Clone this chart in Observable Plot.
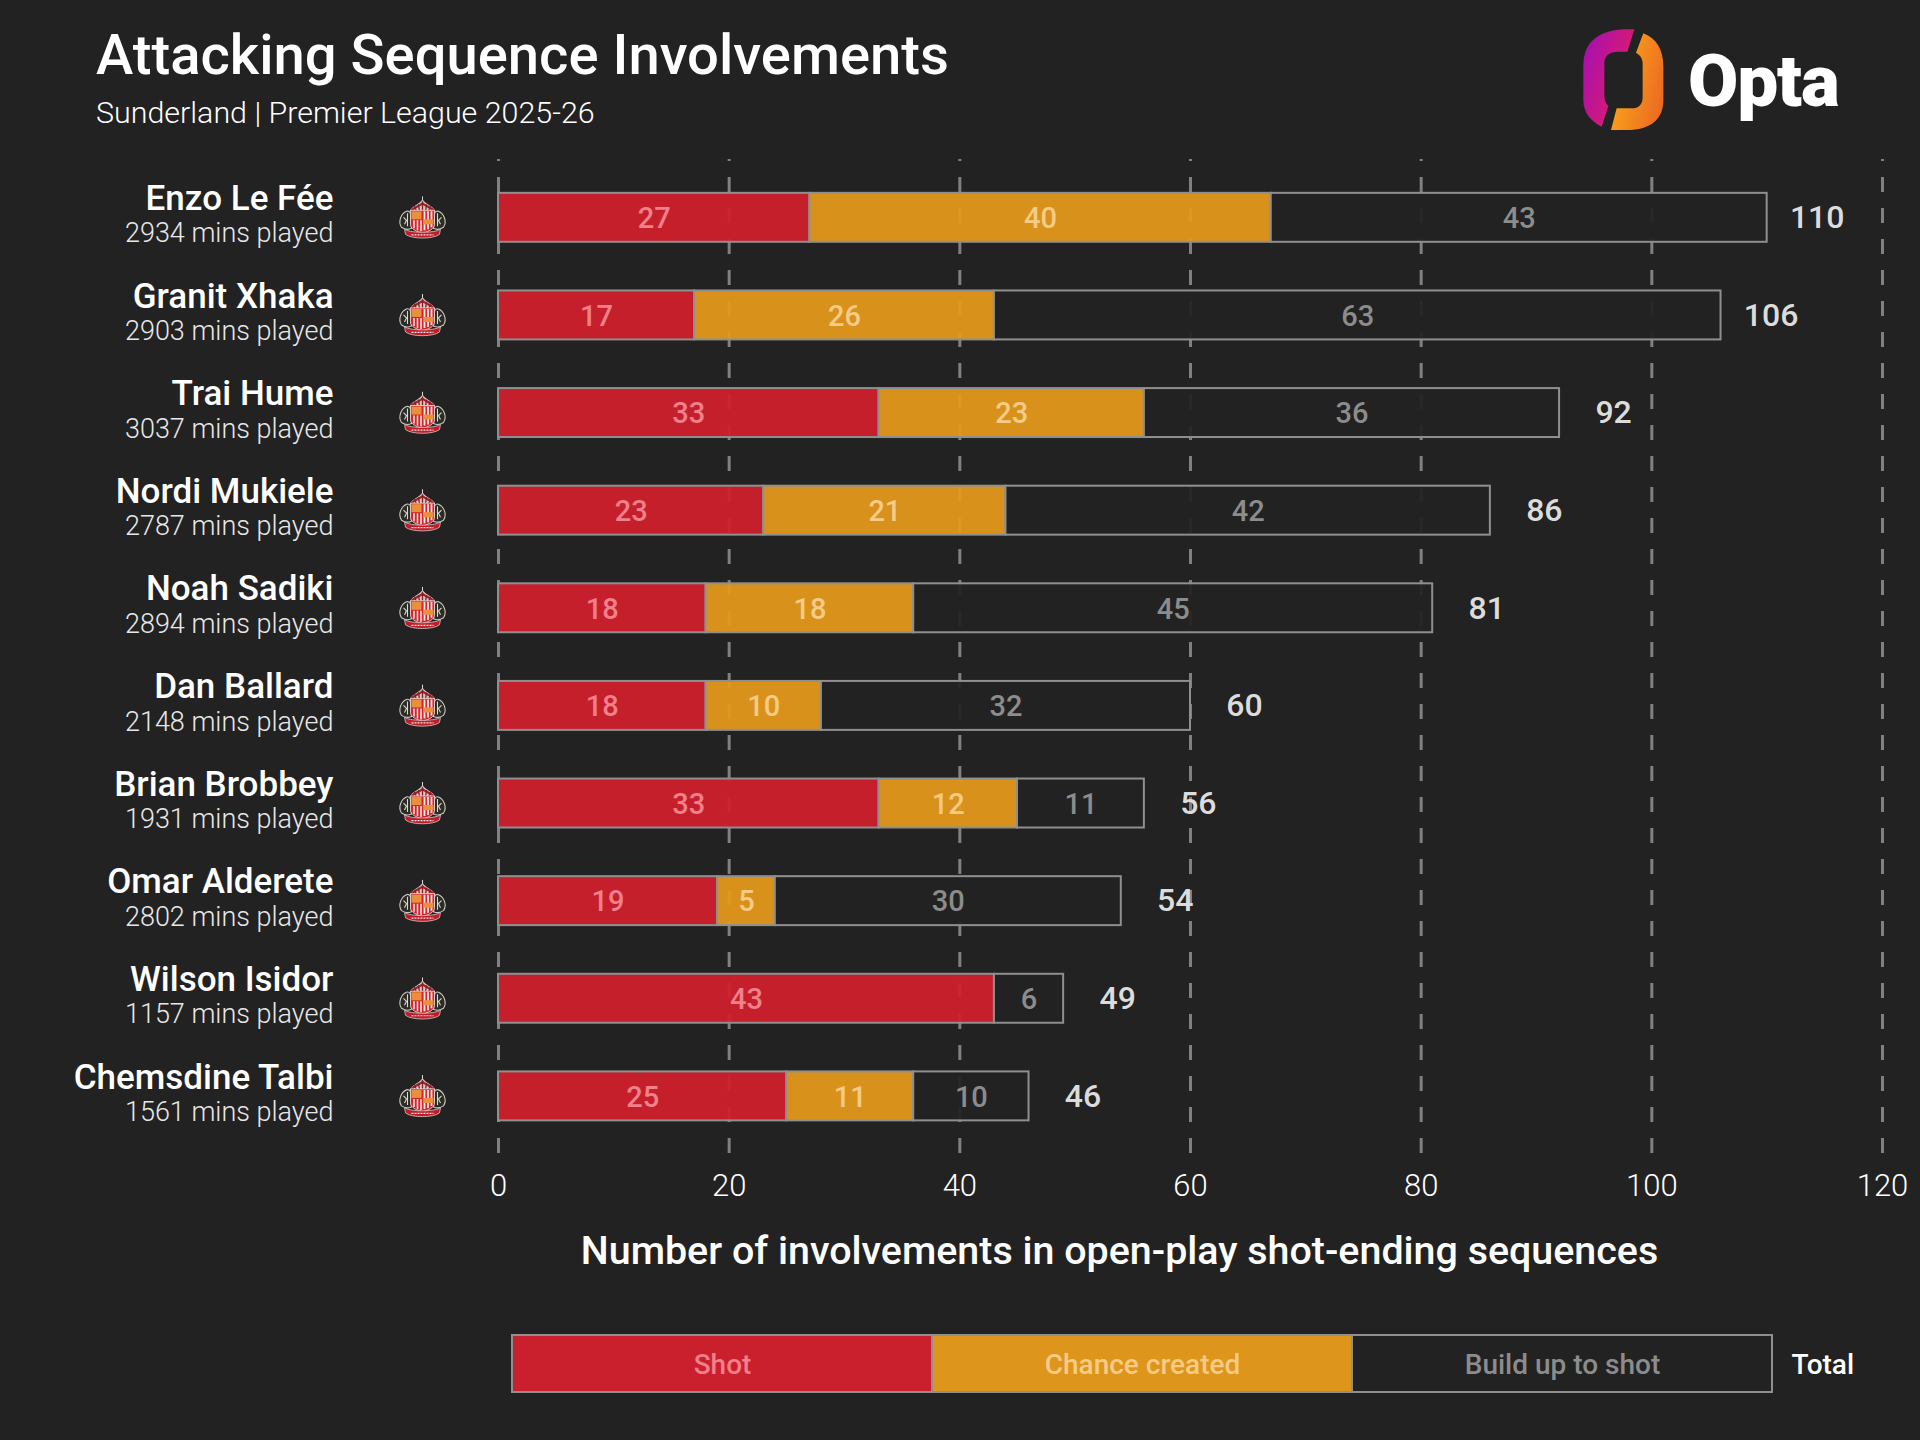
<!DOCTYPE html>
<html lang="en">
<head>
<meta charset="utf-8">
<title>Attacking Sequence Involvements</title>
<script src="https://cdn.jsdelivr.net/npm/d3@7"></script>
<script src="https://cdn.jsdelivr.net/npm/@observablehq/plot@0.6"></script>
<style>
  html, body { margin: 0; padding: 0; background: #222222; }
  #page { position: relative; width: 1920px; height: 1440px; overflow: hidden; font-family: Roboto, sans-serif; color: #fff; }
  #header { position: relative; height: 150px; }
  #title { position: absolute; left: 96px; top: 21px; font-size: 56.2px; font-weight: 500; line-height: 68px; white-space: nowrap; }
  #subtitle { position: absolute; left: 96px; top: 94px; font-size: 30.4px; font-weight: 300; line-height: 38px; white-space: nowrap; }
  #logo { position: absolute; left: 1500px; top: 0; }
  #opta { position: absolute; left: 1688px; top: 36px; font-size: 73px; font-weight: 900; line-height: 90px; letter-spacing: -1.2px; }
  svg { display: block; }
</style>
</head>
<body>
<div id="page">
  <div id="header">
    <div id="title">Attacking Sequence Involvements</div>
    <div id="subtitle">Sunderland | Premier League 2025-26</div>
    <svg id="logo" width="420" height="150" viewBox="0 0 1260 450" aria-hidden="true">
      <defs>
        <linearGradient id="gl" x1="0" y1="0.2" x2="1" y2="0.8"><stop offset="0" stop-color="#a80fb0"/><stop offset="1" stop-color="#ea1f5c"/></linearGradient>
        <linearGradient id="gr" x1="0" y1="0.3" x2="1" y2="0.7"><stop offset="0" stop-color="#fbab1a"/><stop offset="1" stop-color="#ec6a22"/></linearGradient>
      </defs>
      <path fill="url(#gl)" d="M403,88 C330,85 250,100 250,200 L250,300 C250,340 275,365 305,380 L325,318 C315,310 313,295 313,280 L313,190 C313,165 330,155 355,155 L382,155 Z"/>
      <path fill="url(#gr)" d="M430,100 C470,115 490,150 490,200 L490,300 C490,360 450,390 380,390 L333,390 L350,325 L395,325 C420,325 428,310 428,290 L428,190 C428,175 420,165 408,158 Z"/>
    </svg>
    <div id="opta">Opta</div>
  </div>
  <div id="chart"></div>
  <div id="legend"></div>
</div>
<script>
const players = ["Enzo Le Fée","Granit Xhaka","Trai Hume","Nordi Mukiele","Noah Sadiki","Dan Ballard","Brian Brobbey","Omar Alderete","Wilson Isidor","Chemsdine Talbi"];
const minutes = [2934,2903,3037,2787,2894,2148,1931,2802,1157,1561];
const shot    = [27,17,33,23,18,18,33,19,43,25];
const chance  = [40,26,23,21,18,10,12,5,0,11];
const buildUp = [43,63,36,42,45,32,11,30,6,10];
const totals  = [110,106,92,86,81,60,56,54,49,46];
const xTicks  = [0,20,40,60,80,100,120];
const legendLabels = ["Shot","Chance created","Build up to shot"];
const barColors  = ["#d01f2d","#e3991c","#222222"];
const textColors = ["#f0808a","#f6cb86","#8c8c8c"];
const xLabel = "Number of involvements in open-play shot-ending sequences";

const crest = "data:image/svg+xml," + encodeURIComponent(`<svg xmlns="http://www.w3.org/2000/svg" viewBox="0 0 50 43">
<path d="M25 0V5" stroke="#ddd" stroke-width="1"/>
<path d="M12 15C15 9 22 8 25 3C28 8 35 9 38 15Z" fill="#d9c5c2"/>
<path d="M14 14C17 11 21 10 25 7C29 10 33 11 36 14" fill="none" stroke="#a81f2b" stroke-width="2.2"/>
<path d="M17 10L19 15M21 8L22 15M25 5V15M29 8L28 15M33 10L31 15" stroke="#7f2026" stroke-width="1.3"/>
<path d="M4 31C0 25 4 17 9 15C12 14 14 17 13 21L14 32C10 34 7 33 4 31Z" fill="#2c2c26" stroke="#c9c9bf" stroke-width="1.1"/>
<path d="M46 31C50 25 46 17 41 15C38 14 36 17 37 21L36 32C40 34 43 33 46 31Z" fill="#2c2c26" stroke="#c9c9bf" stroke-width="1.1"/>
<path d="M6 21L9 24L7 28M10 17V30M44 21L41 24L43 28M40 17V30" fill="none" stroke="#d9d9cf" stroke-width="1.1"/>
<path d="M13 14H37V28C37 33 31 35 25 37C19 35 13 33 13 28Z" fill="#d6252e" stroke="#e8e0dc" stroke-width="0.8"/>
<path d="M27 15V34M30.500 15V33M34 15V31" stroke="#f3ece4" stroke-width="1.8"/>
<rect x="14" y="15" width="10" height="8" fill="#e9913a"/>
<rect x="26" y="23" width="10" height="5" fill="#e9913a"/>
<path d="M16.500 24V32M20 24V34M23.500 24V35" stroke="#f3ece4" stroke-width="1.5"/>
<path d="M7 33C14 37 36 37 43 33L42 38C36 43 14 43 8 38Z" fill="#bd1e2a" stroke="#ddd" stroke-width="0.7"/>
<path d="M14 38.500H36" stroke="#f3e3e0" stroke-width="1.2" stroke-dasharray="2 1"/>
</svg>`);

const rows = players.flatMap((player, i) => [
  {player, type: 0, value: shot[i]},
  {player, type: 1, value: chance[i]},
  {player, type: 2, value: buildUp[i]}
]).filter(d => d.value > 0);
const table = players.map((player, i) => ({player, minutes: minutes[i], total: totals[i]}));
const font = "Roboto, sans-serif";

const chart = Plot.plot({
  width: 1920, height: 1140,
  marginTop: 9, marginBottom: 135, marginLeft: 498, marginRight: 38,
  style: {background: "#222222", color: "#ffffff", fontFamily: font, overflow: "visible"},
  x: {domain: [0, 120], range: [498, 1882]},
  y: {domain: players, range: [18.5, 994.7], paddingInner: 0.4985, paddingOuter: 0.2493, round: false, axis: null},
  color: {type: "identity"},
  marks: [
    Plot.ruleX(xTicks, {stroke: "#808080", strokeWidth: 3, strokeDasharray: "15,16", strokeDashoffset: 13}),
    Plot.barX(rows, Plot.stackX({x: "value", y: "player", z: "type", fill: d => barColors[d.type], fillOpacity: 0.94, stroke: "#8f8f8f", strokeWidth: 2})),
    Plot.text(rows, Plot.stackX({x: "value", y: "player", z: "type", text: d => String(d.value), dy: 1, fill: d => textColors[d.type], fontSize: 29, fontWeight: 500})),
    Plot.text(table.filter(d => d.total < 100), {x: "total", y: "player", text: d => String(d.total), dx: 54, fill: "#dcdcdc", fontSize: 32, fontWeight: 500}),
    Plot.text(table.filter(d => d.total >= 100), {x: "total", y: "player", text: d => String(d.total), dx: 50, fill: "#dcdcdc", fontSize: 32, fontWeight: 500}),
    Plot.text(table, {x: () => 0, y: "player", text: "player", dx: -165, dy: -19, textAnchor: "end", fill: "#ffffff", fontSize: 35, fontWeight: 500}),
    Plot.text(table, {x: () => 0, y: "player", text: d => `${d.minutes} mins played`, dx: -165, dy: 16, textAnchor: "end", fill: "#e8e8e8", fontSize: 27, fontWeight: 300}),
    Plot.image(table, {x: () => 0, y: "player", src: () => crest, dx: -76, width: 50, height: 43}),
    Plot.axisX({ticks: xTicks, tickSize: 0, tickPadding: 18, tickFormat: d => String(d), label: null, fontSize: 31, fontWeight: 300, stroke: "none", fill: "#ffffff"}),
    Plot.text([xLabel], {frameAnchor: "bottom", dx: -71, dy: 108, fill: "#ffffff", fontSize: 39.4, fontWeight: 500})
  ]
});
document.getElementById("chart").append(chart);

const legendRows = legendLabels.map((label, i) => ({label, type: i, size: 1}));
const legend = Plot.plot({
  width: 1920, height: 150,
  marginTop: 45, marginBottom: 48, marginLeft: 512, marginRight: 148,
  style: {background: "#222222", color: "#ffffff", fontFamily: font, overflow: "visible"},
  x: {domain: [0, 3], range: [512, 1772], axis: null},
  color: {type: "identity"},
  marks: [
    Plot.barX(legendRows, Plot.stackX({x: "size", z: "type", fill: d => barColors[d.type], fillOpacity: 0.97, stroke: "#8f8f8f", strokeWidth: 2})),
    Plot.text(legendRows, Plot.stackX({x: "size", z: "type", text: "label", frameAnchor: "middle", dy: 1, fill: d => textColors[d.type], fontSize: 28, fontWeight: 500})),
    Plot.text(["Total"], {x: () => 3, frameAnchor: "middle", dy: 1, dx: 19, textAnchor: "start", fill: "#ffffff", fontSize: 28, fontWeight: 500})
  ]
});
document.getElementById("legend").append(legend);
</script>
</body>
</html>
